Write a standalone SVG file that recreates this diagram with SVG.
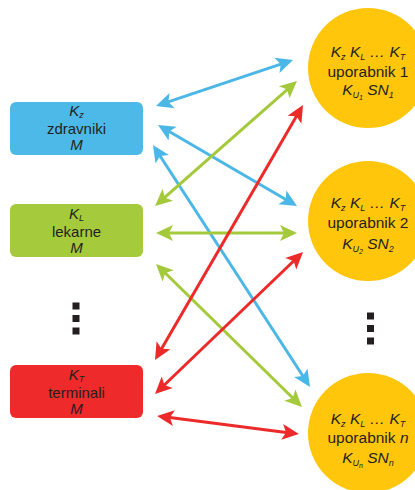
<svg xmlns="http://www.w3.org/2000/svg" width="415" height="490" viewBox="0 0 415 490">
<style>
text{font-family:"Liberation Sans",Arial,sans-serif;fill:#231F20;text-anchor:middle}
.b{font-size:15px}
.c{font-size:15.5px}
.it{font-style:italic}
.s{font-size:9px;font-style:italic}
.ss{font-size:7px;font-style:italic}
.ln{stroke-width:3;fill:none}
.bl{stroke:#4BB7E7}
.gr{stroke:#A4C93B}
.rd{stroke:#EC2A2A}
.circ{fill:#FFC60B}
.dot{fill:#231F20}
</style>
<defs>
<marker id="ab" markerUnits="userSpaceOnUse" markerWidth="24" markerHeight="20" viewBox="-20 -10 24 20" refX="-5" refY="0" orient="auto-start-reverse"><path d="M0,0 L-17,-8 L-13,0 L-17,8 Z" fill="#4BB7E7"/></marker>
<marker id="ag" markerUnits="userSpaceOnUse" markerWidth="24" markerHeight="20" viewBox="-20 -10 24 20" refX="-5" refY="0" orient="auto-start-reverse"><path d="M0,0 L-17,-8 L-13,0 L-17,8 Z" fill="#A4C93B"/></marker>
<marker id="ar" markerUnits="userSpaceOnUse" markerWidth="24" markerHeight="20" viewBox="-20 -10 24 20" refX="-5" refY="0" orient="auto-start-reverse"><path d="M0,0 L-17,-8 L-13,0 L-17,8 Z" fill="#EC2A2A"/></marker>
</defs>
<g id="zdravniki">
<rect x="10" y="102" width="133" height="53" rx="6" fill="#4DB9E9"/>
<text class="b" x="76.5" y="116"><tspan class="it">K</tspan><tspan class="s" dy="2">z</tspan></text>
<text class="b" x="76.5" y="134">zdravniki</text>
<text class="b it" x="76.5" y="150">M</text>
</g>
<g id="lekarne">
<rect x="10" y="204" width="133" height="53" rx="6" fill="#A5CA3B"/>
<text class="b" x="76.5" y="219"><tspan class="it">K</tspan><tspan class="s" dy="2">L</tspan></text>
<text class="b" x="76.5" y="237">lekarne</text>
<text class="b it" x="76.5" y="253">M</text>
</g>
<g id="dots-left">
<rect class="dot" x="72.5" y="302.5" width="7" height="7"/>
<rect class="dot" x="72.5" y="315" width="7" height="7"/>
<rect class="dot" x="72.5" y="327.5" width="7" height="7"/>
</g>
<g id="terminali">
<rect x="10" y="365" width="133" height="53" rx="6" fill="#EE2A2A"/>
<text class="b" x="76.5" y="380"><tspan class="it">K</tspan><tspan class="s" dy="2">T</tspan></text>
<text class="b" x="76.5" y="398">terminali</text>
<text class="b it" x="76.5" y="414">M</text>
</g>
<g id="uporabnik1">
<circle class="circ" cx="368" cy="68" r="60"/>
<text class="c" x="368" y="57"><tspan class="it">K</tspan><tspan class="s" dy="3">z</tspan><tspan class="it" dy="-3"> K</tspan><tspan class="s" dy="3">L</tspan><tspan class="it" dy="-3"> … K</tspan><tspan class="s" dy="3">T</tspan></text>
<text class="c" x="368" y="77">uporabnik 1</text>
<text class="c" x="368" y="95"><tspan class="it">K</tspan><tspan class="s" dy="3">U</tspan><tspan class="ss" dy="2">1</tspan><tspan class="it" dy="-5"> SN</tspan><tspan class="s" dy="3">1</tspan></text>
</g>
<g id="uporabnik2">
<circle class="circ" cx="368" cy="221" r="60"/>
<text class="c" x="368" y="208"><tspan class="it">K</tspan><tspan class="s" dy="3">z</tspan><tspan class="it" dy="-3"> K</tspan><tspan class="s" dy="3">L</tspan><tspan class="it" dy="-3"> … K</tspan><tspan class="s" dy="3">T</tspan></text>
<text class="c" x="368" y="228">uporabnik 2</text>
<text class="c" x="368" y="249"><tspan class="it">K</tspan><tspan class="s" dy="3">U</tspan><tspan class="ss" dy="2">2</tspan><tspan class="it" dy="-5"> SN</tspan><tspan class="s" dy="3">2</tspan></text>
</g>
<g id="dots-right">
<rect class="dot" x="367" y="312.5" width="7" height="7"/>
<rect class="dot" x="367" y="325" width="7" height="7"/>
<rect class="dot" x="367" y="337.5" width="7" height="7"/>
</g>
<g id="uporabnikn">
<circle class="circ" cx="368" cy="433" r="60"/>
<text class="c" x="368" y="424"><tspan class="it">K</tspan><tspan class="s" dy="3">z</tspan><tspan class="it" dy="-3"> K</tspan><tspan class="s" dy="3">L</tspan><tspan class="it" dy="-3"> … K</tspan><tspan class="s" dy="3">T</tspan></text>
<text class="c" x="368" y="443">uporabnik <tspan class="it">n</tspan></text>
<text class="c" x="368" y="463"><tspan class="it">K</tspan><tspan class="s" dy="3">U</tspan><tspan class="ss" dy="2">n</tspan><tspan class="it" dy="-5"> SN</tspan><tspan class="s" dy="3">n</tspan></text>
</g>
<g id="connectors">
<line class="ln bl" x1="160.7" y1="104.4" x2="288.3" y2="61.6" marker-start="url(#ab)" marker-end="url(#ab)"/>
<line class="ln bl" x1="162.3" y1="127.5" x2="292.7" y2="203.5" marker-start="url(#ab)" marker-end="url(#ab)"/>
<line class="ln bl" x1="155.7" y1="149.2" x2="307.3" y2="382.8" marker-start="url(#ab)" marker-end="url(#ab)"/>
<line class="ln gr" x1="158.8" y1="202.7" x2="293.2" y2="84.3" marker-start="url(#ag)" marker-end="url(#ag)"/>
<line class="ln gr" x1="161" y1="233" x2="292" y2="233" marker-start="url(#ag)" marker-end="url(#ag)"/>
<line class="ln gr" x1="159.6" y1="267.5" x2="298.4" y2="403.5" marker-start="url(#ag)" marker-end="url(#ag)"/>
<line class="ln rd" x1="300.5" y1="109.3" x2="157.5" y2="355.7" marker-start="url(#ar)" marker-end="url(#ar)"/>
<line class="ln rd" x1="299.4" y1="255.5" x2="158.6" y2="390.5" marker-start="url(#ar)" marker-end="url(#ar)"/>
<line class="ln rd" x1="162" y1="416.6" x2="294" y2="433.4" marker-start="url(#ar)" marker-end="url(#ar)"/>
</g>
</svg>
